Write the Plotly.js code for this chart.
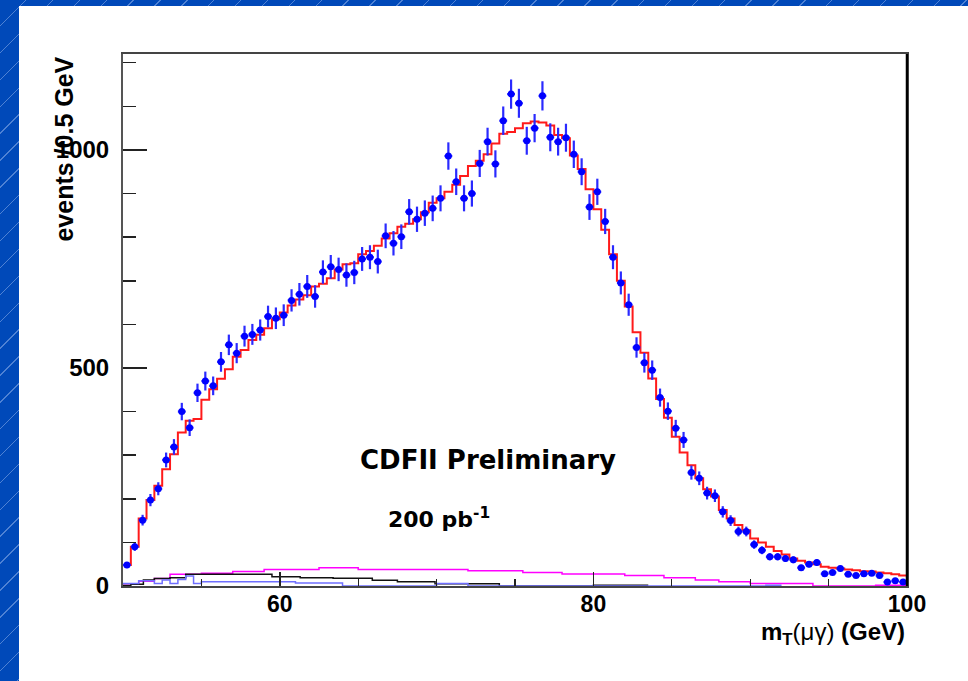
<!DOCTYPE html>
<html>
<head>
<meta charset="utf-8">
<script src="https://cdn.plot.ly/plotly-3.0.1.min.js"></script>
<style>
  html, body { margin:0; padding:0; width:968px; height:681px; overflow:hidden; }
  body {
    position:relative;
    background: repeating-linear-gradient(135deg, #0049b9 0px, #0049b9 18px, #4f82d4 18px, #4f82d4 19px);
  }
  #panel { position:absolute; left:19px; top:6px; right:0; bottom:0; background:#ffffff; }
  #chart { position:absolute; left:0; top:0; width:968px; height:681px; }
</style>
</head>
<body>
<div id="panel"></div>
<div id="chart"></div>
<script>
// ---- data ----
const massCenters = [50.25,50.75,51.25,51.75,52.25,52.75,53.25,53.75,54.25,54.75,
  55.25,55.75,56.25,56.75,57.25,57.75,58.25,58.75,59.25,59.75,
  60.25,60.75,61.25,61.75,62.25,62.75,63.25,63.75,64.25,64.75,
  65.25,65.75,66.25,66.75,67.25,67.75,68.25,68.75,69.25,69.75,
  70.25,70.75,71.25,71.75,72.25,72.75,73.25,73.75,74.25,74.75,
  75.25,75.75,76.25,76.75,77.25,77.75,78.25,78.75,79.25,79.75,
  80.25,80.75,81.25,81.75,82.25,82.75,83.25,83.75,84.25,84.75,
  85.25,85.75,86.25,86.75,87.25,87.75,88.25,88.75,89.25,89.75,
  90.25,90.75,91.25,91.75,92.25,92.75,93.25,93.75,94.25,94.75,
  95.25,95.75,96.25,96.75,97.25,97.75,98.25,98.75,99.25,99.75];
const binHalfWidth = 0.25;

const dataCounts = [48,90,151,197,223,289,319,400,363,443,
  470,459,514,553,534,573,577,587,618,614,
  621,655,669,687,664,720,732,726,713,719,
  750,754,744,803,786,801,858,841,855,866,
  889,986,927,889,900,969,1019,968,1067,1128,
  1107,1021,1050,1124,1029,1019,1028,990,950,869,
  904,836,754,695,645,547,512,495,432,401,
  362,335,260,247,213,207,170,150,125,125,
  95,82,67,67,63,60,42,50,54,28,
  31,40,27,24,28,29,24,9,12,9];

const mcPrediction = [48,90,155,197,230,268,302,352,379,383,
  427,451,475,497,526,541,564,576,591,612,
  627,643,657,667,687,693,706,726,738,740,
  761,768,780,797,809,824,831,841,857,879,
  889,904,920,940,963,975,990,1015,1037,1041,
  1050,1061,1065,1063,1056,1034,1027,987,956,910,
  864,817,761,700,641,582,535,476,429,386,
  342,306,277,247,222,205,174,155,140,128,
  109,100,90,80,72,63,58,54,50,44,
  42,40,38,36,34,33,31,29,27,24];

// small background components (bin edges / contents)
const bkgMagentaEdges = [50,51,52,53,55,57,59,62.5,65,72,75.5,78,82,84.5,86.5,88,90,94,98,100];
const bkgMagentaVals  = [5,11,17,27,29,33,38,42,38,35,31,27.5,24,19,14,10,6,0,2];
const bkgBlackEdges = [50,50.5,51.3,52,53,54,59.5,61.3,63.4,65.9,67.5,69.9,74,80,83.5];
const bkgBlackVals  = [1,4,14,17,19,27,21,19,18,13,10,5,0,2];
const bkgBlueEdges = [50,51,52,52.5,53,53.5,54,54.5,55,61,64,70,72,91,92];
const bkgBlueVals  = [6,12,6,14,6,15,23,6,10,7,0,6,0,2];

const xTickVals = [60, 80, 100];
const yTickVals = [0, 500, 1000];

// ---- helpers to build step lines from bins ----
function stepFromCenters(centers, vals) {
  const x = centers.map(c => c - binHalfWidth);
  x.push(centers[centers.length - 1] + binHalfWidth);
  const y = vals.slice(); y.push(vals[vals.length - 1]);
  return {x, y};
}
function stepFromEdges(edges, vals) {
  const y = vals.slice(); y.push(vals[vals.length - 1]);
  return {x: edges.slice(), y};
}

const mc = stepFromCenters(massCenters, mcPrediction);
const mag = stepFromEdges(bkgMagentaEdges, bkgMagentaVals);
const blk = stepFromEdges(bkgBlackEdges, bkgBlackVals);
const blu = stepFromEdges(bkgBlueEdges, bkgBlueVals);

const traces = [
  {x: mag.x, y: mag.y, mode:'lines', line:{shape:'hv', color:'#ff00ff', width:1.5}, hoverinfo:'skip'},
  {x: blk.x, y: blk.y, mode:'lines', line:{shape:'hv', color:'#111111', width:1.5}, hoverinfo:'skip'},
  {x: blu.x, y: blu.y, mode:'lines', line:{shape:'hv', color:'#6f6fff', width:1.5}, hoverinfo:'skip'},
  {x: mc.x, y: mc.y, mode:'lines', line:{shape:'hv', color:'#ff1a1a', width:2}, hoverinfo:'skip'},
  {x: massCenters, y: dataCounts, mode:'markers', type:'scatter',
   marker:{color:'#0000ff', size:7, symbol:'circle'},
   error_y:{type:'sqrt', visible:true, color:'#2a2aff', thickness:2.2, width:0},
   error_x:{type:'constant', value:binHalfWidth, visible:true, color:'#2a2aff', thickness:2.2, width:0}}
];

const L = 123, T = 54, R = 907.5, B = 586;
const pw = R - L, ph = B - T;
function px2x(px){ return (px - L) / pw; }
function py2y(py){ return (B - py) / ph; }

const tickFont = {family:'Liberation Sans, Arial, sans-serif', size:23, color:'#000', weight:'bold'};

const layout = {
  width:968, height:681,
  paper_bgcolor:'rgba(0,0,0,0)', plot_bgcolor:'#ffffff',
  margin:{l:L, r:968-R, t:T, b:681-B, pad:0},
  showlegend:false,
  font:{family:'Liberation Sans, Arial, sans-serif', color:'#000'},
  xaxis:{
    range:[50,100], tickmode:'array', tickvals:xTickVals, ticktext:xTickVals.map(String),
    ticks:'inside', ticklen:14, tickwidth:1.5, tickcolor:'#222',
    minor:{dtick:5, tick0:0, ticks:'inside', ticklen:7, tickwidth:1.2, tickcolor:'#222'},
    showgrid:false, zeroline:false, showline:true, linecolor:'#444', linewidth:2, mirror:true,
    tickfont:tickFont, ticklabelstandoff:-4
  },
  yaxis:{
    range:[0,1220], tickmode:'array', tickvals:yTickVals, ticktext:yTickVals.map(String),
    ticks:'inside', ticklen:24, tickwidth:1.5, tickcolor:'#222',
    minor:{dtick:100, tick0:0, ticks:'inside', ticklen:13, tickwidth:1.5, tickcolor:'#222'},
    showgrid:false, zeroline:false, showline:true, linecolor:'#555', linewidth:2, mirror:true,
    tickfont:{family:'Liberation Sans, Arial, sans-serif', size:24, color:'#000', weight:'bold'},
    ticklabelstandoff:7
  },
  shapes:[
    {type:'line', xref:'paper', yref:'paper', x0:1, x1:1, y0:0, y1:1, line:{color:'#000', width:2.5}}
  ],
  annotations:[
    {xref:'paper', yref:'paper', x:px2x(64), y:py2y(55), xanchor:'center', yanchor:'top',
     textangle:-90, showarrow:false, text:'events /0.5 GeV',
     font:{family:'Liberation Sans, Arial, sans-serif', size:25, weight:'bold', color:'#000'}},
    {xref:'paper', yref:'paper', x:px2x(908), y:py2y(633), xanchor:'right', yanchor:'middle',
     showarrow:false, text:'m<sub>T</sub><span style="font-weight:normal">(μγ)</span> (GeV)',
     font:{family:'Liberation Sans, Arial, sans-serif', size:24, weight:'bold', color:'#000'}},
    {xref:'paper', yref:'paper', x:px2x(358), y:py2y(460), xanchor:'left', yanchor:'middle',
     showarrow:false, text:'CDFII Preliminary',
     font:{family:'DejaVu Sans, sans-serif', size:26, weight:'bold', color:'#000'}},
    {xref:'paper', yref:'paper', x:px2x(386), y:py2y(518), xanchor:'left', yanchor:'middle',
     showarrow:false, text:'200 pb<sup>-1</sup>',
     font:{family:'DejaVu Sans, sans-serif', size:22, weight:'bold', color:'#000'}}
  ]
};

Plotly.newPlot('chart', traces, layout, {staticPlot:true, displayModeBar:false});
</script>
</body>
</html>
